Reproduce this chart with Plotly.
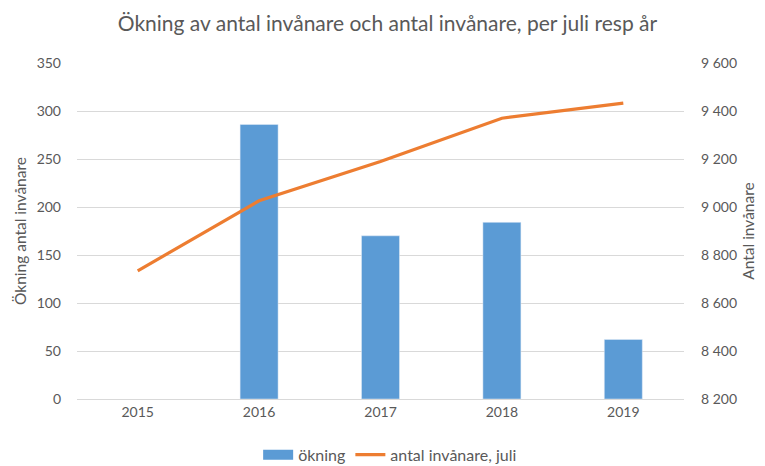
import plotly.graph_objects as go

years = ["2015", "2016", "2017", "2018", "2019"]
okning = [None, 286, 170, 184, 62]
antal = [8734, 9026, 9190, 9370, 9433]

left_ticks = [0, 50, 100, 150, 200, 250, 300, 350]
right_ticks = [8200, 8400, 8600, 8800, 9000, 9200, 9400, 9600]

FONT = "Lato, Open Sans, sans-serif"
GREY = "#595959"
BLUE = "#5B9BD5"
ORANGE = "#ED7D31"

fig = go.Figure()
fig.add_trace(go.Bar(x=years, y=okning, name="ökning", marker_color=BLUE,
                     width=0.313, yaxis="y", showlegend=False))
# legend-only entry giving a wide rectangular swatch like the original
fig.add_trace(go.Scatter(x=[None], y=[None], name="ökning", mode="lines",
                         line=dict(color=BLUE, width=12), yaxis="y"))
fig.add_trace(go.Scatter(x=years, y=antal, name="antal invånare, juli", mode="lines",
                         line=dict(color=ORANGE, width=3.2), yaxis="y2"))

fig.update_layout(
    width=765, height=466,
    margin=dict(l=77, r=81, t=63.3, b=67),
    paper_bgcolor="white", plot_bgcolor="white",
    separators=", ",
    font=dict(family=FONT, color=GREY, size=14),
    title=dict(text="Ökning av antal invånare och antal invånare, per juli resp år",
               x=0.5065, xanchor="center", y=0.9485, yanchor="middle",
               font=dict(size=21, color=GREY, family=FONT)),
    xaxis=dict(showgrid=False, showline=True, linecolor="#d9d9d9", ticks="",
               automargin=False, tickfont=dict(size=14, color=GREY)),
    yaxis=dict(range=[0, 350], tickvals=left_ticks, showgrid=True, gridcolor="#d9d9d9",
               zeroline=False, ticks="", ticklabelstandoff=15, automargin=False,
               title=dict(text="Ökning antal invånare", font=dict(size=15.5, color=GREY), standoff=6),
               tickfont=dict(size=14, color=GREY)),
    yaxis2=dict(range=[8200, 9600], tickvals=right_ticks, overlaying="y", side="right",
                showgrid=False, zeroline=False, tickformat=",d", ticks="",
                ticklabelstandoff=16, automargin=False,
                title=dict(text="Antal invånare", font=dict(size=15.5, color=GREY), standoff=7),
                tickfont=dict(size=14, color=GREY)),
    legend=dict(orientation="h", x=0.51, xanchor="center", xref="container",
                y=0.024, yanchor="middle", yref="container",
                font=dict(size=16, color=GREY)),
    bargap=0.69,
)

fig.write_html("out.html", config={"displayModeBar": False},
               post_script="document.body.style.margin='0';document.body.style.overflow='hidden';")
